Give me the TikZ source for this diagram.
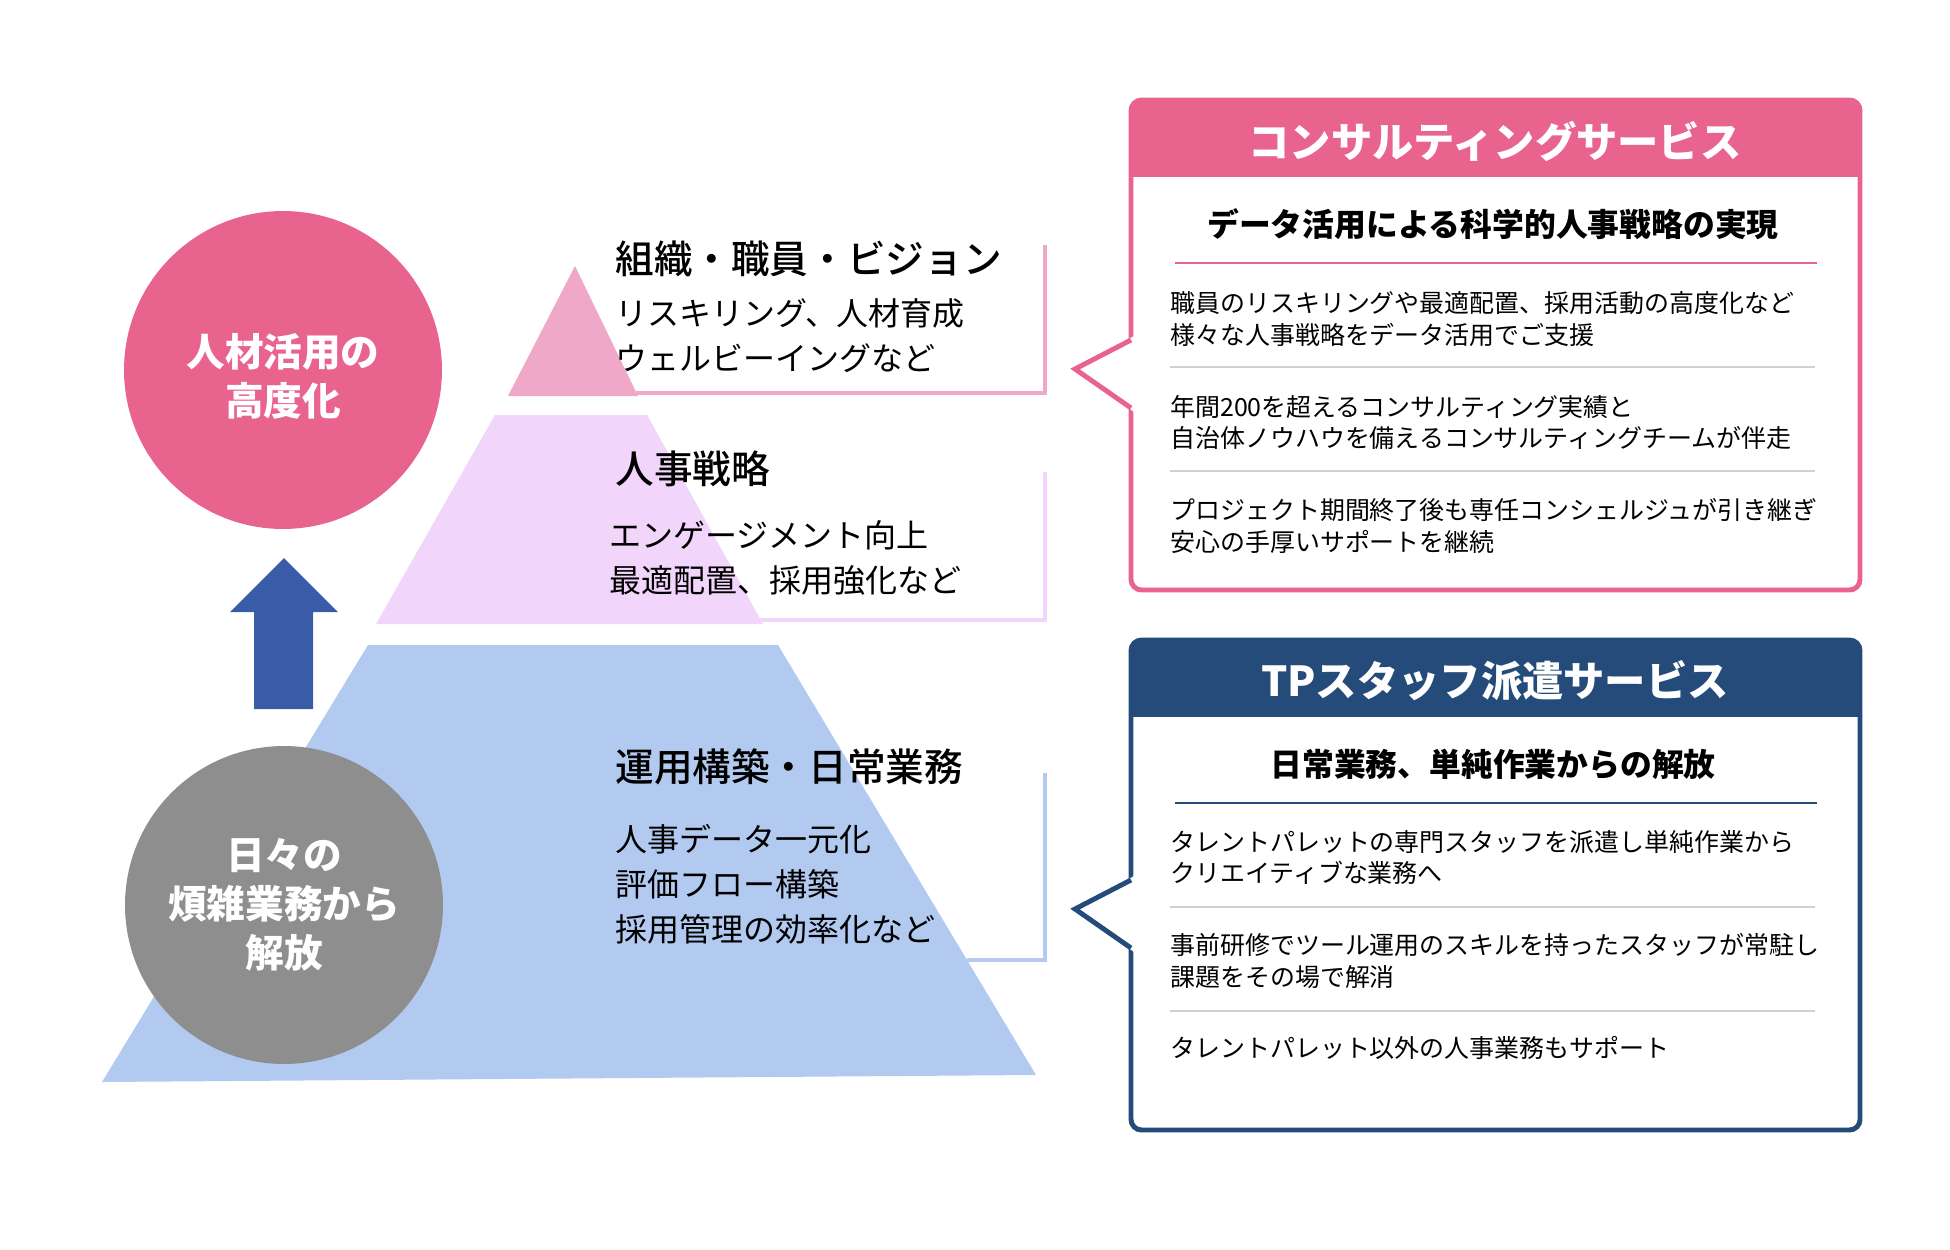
\documentclass[tikz,border=0pt]{standalone}
\usepackage{fontspec}
\setmainfont{Noto Sans CJK JP}
\newfontfamily\jpmed{Noto Sans CJK JP Medium}
\definecolor{tpPink}{HTML}{E9638F}
\definecolor{tpNavy}{HTML}{244B7A}
\definecolor{tpArrow}{HTML}{3A5CA8}
\definecolor{tpGray}{HTML}{8E8E8E}
\definecolor{tpTop}{HTML}{F0A8C8}
\definecolor{tpMid}{HTML}{F1D5FA}
\definecolor{tpBase}{HTML}{B3CAF0}
\begin{document}
\begin{tikzpicture}[x=0.02cm,y=-0.02cm,font=\fontsize{14.2pt}{18.1pt}\selectfont,
  heading/.style={anchor=west,inner sep=0pt,font=\jpmed\fontsize{22pt}{26pt}\selectfont},
  detail/.style={anchor=west,align=left,inner sep=0pt,font=\fontsize{18.2pt}{25.6pt}\selectfont},
  item/.style={anchor=west,align=left,inner sep=0pt},
  circtext/.style={align=center,text=white,font=\bfseries\fontsize{22pt}{28pt}\selectfont}]
\def\serviceFrame#1#2#3#4#5{%
  \begin{scope}
    \clip[rounded corners=6pt] (1131,#1) rectangle (1860,#1+490);
    \fill[white] (1131,#1) rectangle (1860,#1+490);
    \fill[#2] (1131,#1) rectangle (1860,#1+77);
  \end{scope}
  \draw[#2,line width=2.8pt,rounded corners=6pt] (1131,#1) rectangle (1860,#1+490);
  \fill[white] (1134,#1+236) -- (1075,#1+269) -- (1134,#1+312) -- cycle;
  \draw[#2,line width=2.8pt] (1131,#1+240) -- (1075,#1+269) -- (1131,#1+308);
  \node[text=white,font=\bfseries\fontsize{23.5pt}{28pt}\selectfont] (#3Title) at (1495,#1+41) {#4};
  \node[font=\bfseries\fontsize{18.1pt}{22pt}\selectfont] (#3Lead) at (1493,#1+124) {#5};
  \draw[#2,line width=1.2pt] (1175,#1+163) -- (1817,#1+163);
  \foreach \s in {267,371} \draw[black!18,line width=1.1pt] (1170,#1+\s) -- (1815,#1+\s);}
\useasboundingbox (0,0) rectangle (1950,1250);
% pyramid
\fill[tpTop] (575,266) -- (638,396) -- (508,396) -- cycle;
\fill[tpMid] (495,415) -- (647,415) -- (763,624) -- (376,624) -- cycle;
\fill[tpBase] (368,645) -- (778,645) -- (1036,1075) -- (102,1082) -- cycle;
\draw[tpTop,line width=2.3pt] (636,393) -- (1045,393) -- (1045,245);
\draw[tpMid,line width=2.3pt] (760,620) -- (1045,620) -- (1045,472);
\draw[tpBase,line width=2.3pt] (967,960) -- (1045,960) -- (1045,773);
\node[heading] (visionHead) at (615,259) {組織・職員・ビジョン};
\node[detail] (visionText) at (615,335.5) {リスキリング、人材育成\\ウェルビーイングなど};
\node[heading] (strategyHead) at (615,469) {人事戦略};
\node[detail] (strategyText) at (609,557.5) {エンゲージメント向上\\最適配置、採用強化など};
\node[heading] (baseHead) at (615,767) {運用構築・日常業務};
\node[detail] (baseText) at (615,884.5) {人事データ一元化\\評価フロー構築\\採用管理の効率化など};
% circles and arrow
\node[circle,fill=tpPink,minimum size=6.36cm,inner sep=0pt] (talentGoal) at (283,370) {};
\node[circtext] (talentGoalText) at (283,376) {人材活用の\\高度化};
\node[circle,fill=tpGray,minimum size=6.36cm,inner sep=0pt,circtext] (routineRelief) at (284,905) {日々の\\煩雑業務から\\解放};
\fill[tpArrow] (254,709) -- (254,612) -- (230,612) -- (284,558) -- (338,612) -- (313,612) -- (313,709) -- cycle;
% service boxes
\serviceFrame{100}{tpPink}{consult}{コンサルティングサービス}{データ活用による科学的人事戦略の実現}
\node[item] (consultItemA) at (1170,319) {職員のリスキリングや最適配置、採用活動の高度化など\\様々な人事戦略をデータ活用でご支援};
\node[item] (consultItemB) at (1170,422.5) {年間200を超えるコンサルティング実績と\\自治体ノウハウを備えるコンサルティングチームが伴走};
\node[item] (consultItemC) at (1170,526) {プロジェクト期間終了後も専任コンシェルジュが引き継ぎ\\安心の手厚いサポートを継続};
\serviceFrame{640}{tpNavy}{staff}{TPスタッフ派遣サービス}{日常業務、単純作業からの解放}
\node[item] (staffItemA) at (1170,857.5) {タレントパレットの専門スタッフを派遣し単純作業から\\クリエイティブな業務へ};
\node[item] (staffItemB) at (1170,961) {事前研修でツール運用のスキルを持ったスタッフが常駐し\\課題をその場で解消};
\node[item] (staffItemC) at (1170,1048) {タレントパレット以外の人事業務もサポート};
\end{tikzpicture}
\end{document}
